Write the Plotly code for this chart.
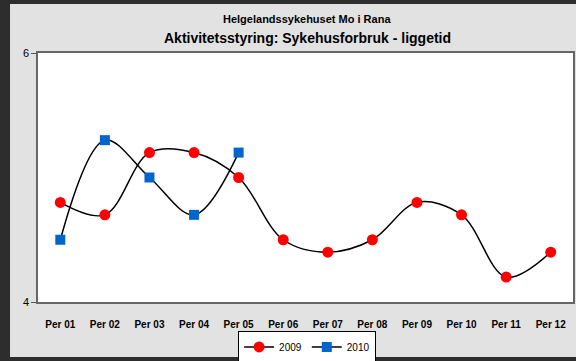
import plotly.graph_objects as go

periods = ['Per 01', 'Per 02', 'Per 03', 'Per 04', 'Per 05', 'Per 06',
           'Per 07', 'Per 08', 'Per 09', 'Per 10', 'Per 11', 'Per 12']
vals_2009 = [4.8, 4.7, 5.2, 5.2, 5.0, 4.5, 4.4, 4.5, 4.8, 4.7, 4.2, 4.4]
vals_2010 = [4.5, 5.3, 5.0, 4.7, 5.2]

fig = go.Figure()

fig.add_trace(go.Scatter(
    x=periods, y=vals_2009, name='2009',
    mode='lines+markers',
    line=dict(color='black', width=1.5, shape='spline', smoothing=1),
    marker=dict(symbol='circle', size=11, color='#ff0000')
))
fig.add_trace(go.Scatter(
    x=periods[:len(vals_2010)], y=vals_2010, name='2010',
    mode='lines+markers',
    line=dict(color='black', width=1.5, shape='spline', smoothing=1),
    marker=dict(symbol='square', size=10, color='#0066cc')
))

# light gray panel inside dark frame, white plot area on top of it
fig.add_shape(type='rect', xref='paper', yref='paper',
              x0=-0.0523, x1=1.01, y0=-0.2209, y1=1.197,
              fillcolor='#e2e2e2', line=dict(width=0), layer='below')
fig.add_shape(type='rect', xref='paper', yref='paper',
              x0=0, x1=1, y0=0, y1=1,
              fillcolor='white', line=dict(width=0), layer='below')

fig.add_annotation(text='<b>Helgelandssykehuset Mo i Rana</b>',
                   xref='paper', yref='paper', x=0.503, y=1.137, yanchor='middle',
                   showarrow=False, font=dict(size=11, color='black'))
fig.add_annotation(text='<b>Aktivitetsstyring: Sykehusforbruk - liggetid</b>',
                   xref='paper', yref='paper', x=0.503, y=1.06, yanchor='middle',
                   showarrow=False, font=dict(size=14, color='black'))

fig.update_layout(
    width=576, height=361,
    margin=dict(l=38, r=3, t=53, b=59, autoexpand=False),
    paper_bgcolor='#2d2d2d',
    plot_bgcolor='white',
    font=dict(family='Liberation Sans, Arial', size=11, color='black'),
    xaxis=dict(
        showgrid=False, showline=True, linecolor='#666', linewidth=1.5, mirror=True,
        ticks='', tickfont=dict(size=10, color='black', weight='bold'),
        ticklabelstandoff=12,
        range=[-0.5, 11.5], automargin=False
    ),
    yaxis=dict(
        range=[4, 6], tickvals=[4, 6], showgrid=False,
        showline=True, linecolor='#666', linewidth=1.5, mirror=True,
        ticks='outside', ticklen=5, tickcolor='#555',
        tickfont=dict(size=11, color='black'), zeroline=False, automargin=False
    ),
    legend=dict(
        orientation='h', x=0.503, xanchor='center', y=-0.118, yanchor='top',
        bgcolor='white', bordercolor='black', borderwidth=1,
        font=dict(size=10), itemwidth=30, tracegroupgap=0
    ),
    showlegend=True
)

fig.write_html('out.html', config={'displayModeBar': False},
               post_script="document.body.style.margin='0';")
